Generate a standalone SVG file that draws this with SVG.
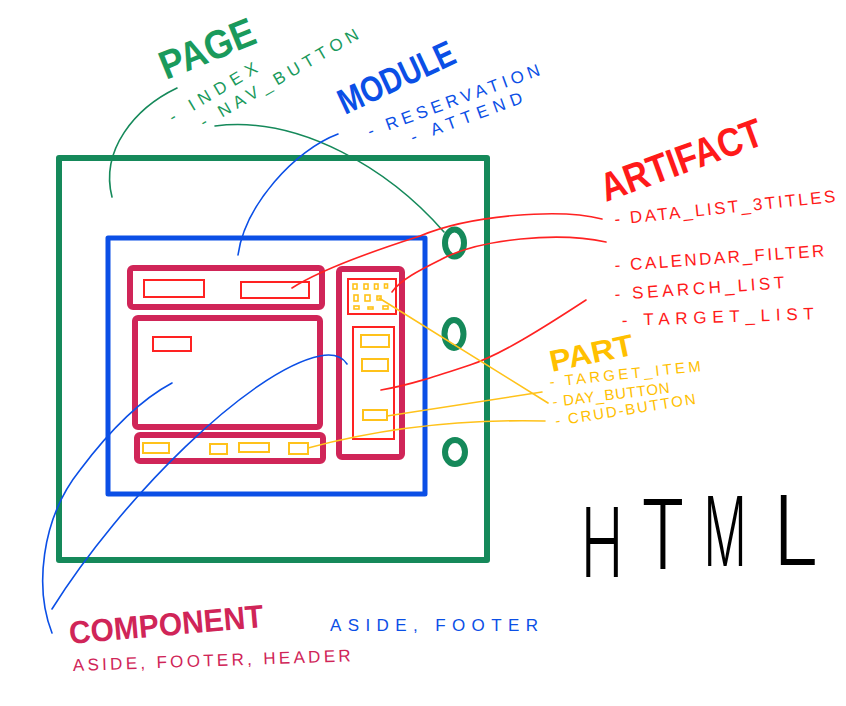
<svg xmlns="http://www.w3.org/2000/svg" width="846" height="706" viewBox="0 0 846 706">
  <defs>
    <style>
      .bg { fill: #ffffff; }
      .frame-page { fill: none; stroke: #15895a; stroke-width: 6; stroke-linejoin: round; }
      .frame-module { fill: none; stroke: #0b4fe6; stroke-width: 5; stroke-linejoin: round; }
      .comp { fill: none; stroke: #d02558; stroke-width: 6; stroke-linejoin: round; }
      .artifact { fill: none; stroke: #ff2222; stroke-width: 2; }
      .part { fill: none; stroke: #ffc21a; stroke-width: 2; }
      .dot { fill: none; stroke: #ffc21a; stroke-width: 1.6; }
      .ring { fill: none; stroke: #15895a; stroke-width: 6; }
      .link { fill: none; stroke-width: 1.6; stroke-linecap: round; }
      .l-green { stroke: #15895a; }
      .l-blue { stroke: #0b4fe6; }
      .l-red { stroke: #ff2222; }
      .l-yellow { stroke: #ffc21a; }
      text { font-family: "Liberation Sans", "DejaVu Sans", sans-serif; }
      .title { font-weight: bold; }
      .item { font-size: 17px; }
      .green { fill: #1a9a5c; }
      .blue { fill: #0b4fe6; }
      .red { fill: #ff1a1a; }
      .yellow { fill: #ffc000; }
      .crimson { fill: #d02558; }
      .big { fill: #000000; font-size: 96px; font-family: Inter, "Liberation Sans", sans-serif; font-weight: 300; }
    </style>
  </defs>

  <rect class="bg" x="0" y="0" width="846" height="706"/>

  <!-- page frame -->
  <g id="page-frame">
    <rect class="frame-page" x="59" y="158" width="428" height="402"/>
  </g>

  <!-- module frame -->
  <g id="module-frame">
    <rect class="frame-module" x="108" y="238" width="317" height="256"/>
  </g>

  <!-- components -->
  <g id="header">
    <rect class="comp" x="130" y="268" width="192" height="39" rx="3"/>
    <rect class="artifact" x="144" y="280" width="60" height="17"/>
    <rect class="artifact" x="241" y="282" width="68" height="16"/>
  </g>
  <g id="main">
    <rect class="comp" x="135" y="318" width="185" height="109" rx="3"/>
    <rect class="artifact" x="153" y="337" width="38" height="14"/>
  </g>
  <g id="footer">
    <rect class="comp" x="137" y="435" width="186" height="26" rx="3"/>
    <rect class="part" x="143" y="443" width="26" height="10"/>
    <rect class="part" x="210" y="444" width="17" height="10"/>
    <rect class="part" x="239" y="443" width="30" height="9"/>
    <rect class="part" x="289" y="443" width="19" height="11"/>
  </g>
  <g id="aside">
    <rect class="comp" x="339" y="269" width="63" height="188" rx="3"/>
    <rect class="artifact" x="348" y="279" width="48" height="35"/>
    <rect class="dot" x="353" y="284" width="4" height="5"/>
    <rect class="dot" x="364" y="284" width="4" height="5"/>
    <rect class="dot" x="374.5" y="284" width="3.5" height="5"/>
    <rect class="dot" x="384.5" y="284" width="3" height="4"/>
    <rect class="dot" x="354" y="295" width="4" height="6"/>
    <rect class="dot" x="365" y="295" width="5" height="6"/>
    <rect class="dot" x="377" y="296" width="4" height="4"/>
    <rect class="dot" x="354" y="306" width="5" height="3"/>
    <rect class="dot" x="368" y="307" width="5" height="2"/>
    <rect class="dot" x="383" y="306" width="5" height="3"/>
    <rect class="artifact" x="353" y="327" width="41" height="112"/>
    <rect class="part" x="361" y="335" width="28" height="12"/>
    <rect class="part" x="362" y="359" width="26" height="12"/>
    <rect class="part" x="363" y="410" width="24" height="10"/>
  </g>

  <!-- page markers -->
  <g id="markers">
    <ellipse class="ring" cx="454.5" cy="243" rx="9.5" ry="13.5"/>
    <ellipse class="ring" cx="454" cy="334" rx="9.5" ry="14"/>
    <ellipse class="ring" cx="455" cy="452" rx="10" ry="12"/>
  </g>

  <!-- connectors -->
  <g id="connectors">
    <path class="link l-green" d="M177,88 C135,108 100,150 112,197"/>
    <path class="link l-green" d="M215,126 C300,115 390,170 444,232"/>
    <path class="link l-blue" d="M338,134 C295,150 245,205 238,255"/>
    <path class="link l-red" d="M602,219 C560,208 470,215 420,236 C370,252 320,270 292,288"/>
    <path class="link l-red" d="M606,242 C560,232 480,238 440,260 C420,270 400,280 392,292"/>
    <path class="link l-red" d="M586,300 C540,330 500,355 470,365 C440,375 410,385 381,390"/>
    <path class="link l-yellow" d="M548,403 L379,298"/>
    <path class="link l-yellow" d="M542,392 L387,416"/>
    <path class="link l-yellow" d="M545,421 Q420,418 308,448"/>
    <path class="link l-blue" d="M52,633 C35,590 40,520 80,470 C110,430 140,400 172,383"/>
    <path class="link l-blue" d="M52,609 C120,500 250,370 320,356 C335,353 343,358 347,364"/>
  </g>

  <!-- labels -->
  <g id="label-page">
    <text class="title green" font-size="40" transform="translate(166,80) rotate(-22)" textLength="100" lengthAdjust="spacingAndGlyphs">PAGE</text>
    <text class="item green" transform="translate(173,123) rotate(-31)" textLength="100" lengthAdjust="spacing">- INDEX</text>
    <text class="item green" transform="translate(204,128) rotate(-30)" textLength="180" lengthAdjust="spacing">- NAV_BUTTON</text>
  </g>
  <g id="label-module">
    <text class="title blue" font-size="36" transform="translate(345,115) rotate(-25)" textLength="125" lengthAdjust="spacingAndGlyphs">MODULE</text>
    <text class="item blue" transform="translate(370,137) rotate(-20)" textLength="182" lengthAdjust="spacing">- RESERVATION</text>
    <text class="item blue" transform="translate(413,143) rotate(-20)" textLength="118" lengthAdjust="spacing">- ATTEND</text>
  </g>
  <g id="label-artifact">
    <text class="title red" font-size="40" transform="translate(606,202) rotate(-20)" textLength="170" lengthAdjust="spacingAndGlyphs">ARTIFACT</text>
    <text class="item red" transform="translate(615,225) rotate(-6)" textLength="222" lengthAdjust="spacing">- DATA_LIST_3TITLES</text>
    <text class="item red" transform="translate(615,271) rotate(-4)" textLength="210" lengthAdjust="spacing">- CALENDAR_FILTER</text>
    <text class="item red" transform="translate(615,300) rotate(-4)" textLength="170" lengthAdjust="spacing">- SEARCH_LIST</text>
    <text class="item red" transform="translate(622,326) rotate(-2)" textLength="192" lengthAdjust="spacing">- TARGET_LIST</text>
  </g>
  <g id="label-part">
    <text class="title yellow" font-size="30" transform="translate(552,372) rotate(-12)" textLength="85" lengthAdjust="spacingAndGlyphs">PART</text>
    <text class="yellow" font-size="15" transform="translate(550,387) rotate(-6)" textLength="152" lengthAdjust="spacing">- TARGET_ITEM</text>
    <text class="yellow" font-size="15" transform="translate(553,407) rotate(-7)" textLength="118" lengthAdjust="spacing">- DAY_BUTTON</text>
    <text class="yellow" font-size="15" transform="translate(556,426) rotate(-9)" textLength="142" lengthAdjust="spacing">- CRUD-BUTTON</text>
  </g>
  <g id="label-component">
    <text class="title crimson" font-size="32" transform="translate(70,644) rotate(-5)" textLength="195" lengthAdjust="spacingAndGlyphs">COMPONENT</text>
    <text class="item crimson" transform="translate(73,671) rotate(-2)" textLength="278" lengthAdjust="spacing">ASIDE, FOOTER, HEADER</text>
    <text class="item blue" transform="translate(330,631)" textLength="208" lengthAdjust="spacing">ASIDE, FOOTER</text>
  </g>
  <g id="label-html">
    <text class="big" text-anchor="middle" transform="translate(602,577) scale(0.6,1)">H</text>
    <text class="big" text-anchor="middle" transform="translate(663,569) scale(0.75,1)">T</text>
    <text class="big" text-anchor="middle" transform="translate(725,566) scale(0.5,1)">M</text>
    <text class="big" text-anchor="middle" transform="translate(796,565) scale(0.85,1)">L</text>
  </g>
</svg>
